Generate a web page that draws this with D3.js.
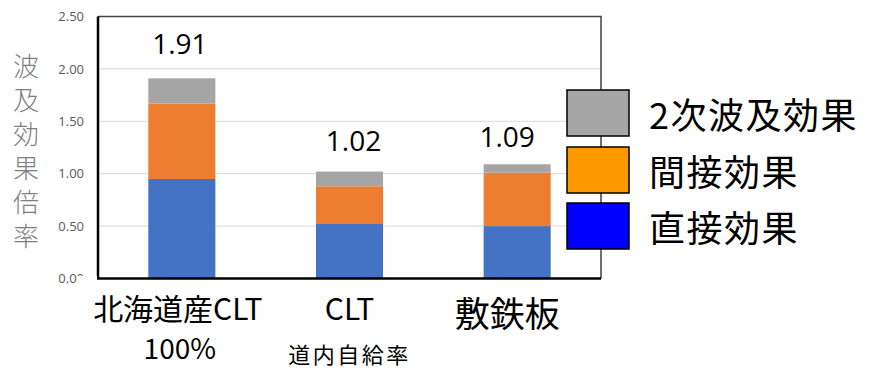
<!DOCTYPE html>
<html>
<head>
<meta charset="utf-8">
<script src="https://cdn.jsdelivr.net/npm/d3@7/dist/d3.min.js"></script>
<style>
  html, body { margin: 0; padding: 0; background: #fff; }
  svg { display: block; }
</style>
</head>
<body>
<svg id="chart" width="871" height="368"></svg>
<script>
// Ripple-effect multipliers by material
const categories = ["北海道産CLT", "CLT", "敷鉄板"];
const subLabels = ["100%", "道内自給率", ""];
const seriesNames = ["直接効果", "間接効果", "2次波及効果"];
const direct = [0.95, 0.52, 0.50];
const indirect = [0.72, 0.36, 0.51];
const secondary = [0.24, 0.14, 0.08];
const totals = [1.91, 1.02, 1.09];
const yTicks = [0, 0.5, 1.0, 1.5, 2.0, 2.5];
const yTitle = "波及効果倍率";

// Styling
const barColors = ["#4472c4", "#ed7d31", "#a5a5a5"];
const legendColors = ["#0000ff", "#ff9900", "#a6a6a6"];
const totalDx = [-2, 4, -10];
const totalDy = [-24, -21, -17];
const catDx = [-4, 0, -10];
const catSize = [30, 30, 35];
const subSize = [28, 22, 22];

const svg = d3.select("#chart");
const M = { left: 98, right: 601, top: 16.5, bottom: 278.5 };

const x = d3.scaleBand().domain(categories).range([M.left, M.right]).paddingInner(0.6).paddingOuter(0.3);
const y = d3.scaleLinear().domain([0, 2.5]).range([M.bottom, M.top]);

const table = categories.map((c, i) => ({
  cat: c,
  [seriesNames[0]]: direct[i],
  [seriesNames[1]]: indirect[i],
  [seriesNames[2]]: secondary[i]
}));
const stacked = d3.stack().keys(seriesNames)(table);

// Gridlines
svg.append("g")
  .selectAll("line")
  .data(yTicks.filter(t => t > 0 && t < 2.5))
  .join("line")
  .attr("x1", M.left).attr("x2", M.right)
  .attr("y1", d => y(d)).attr("y2", d => y(d))
  .attr("stroke", "#d9d9d9").attr("stroke-width", 1);

// Plot frame: thin top/right
svg.append("path")
  .attr("d", `M${M.left},${M.top}H${M.right}V${M.bottom}`)
  .attr("fill", "none").attr("stroke", "#404040").attr("stroke-width", 1.5);

// Stacked bars
svg.append("g")
  .selectAll("g")
  .data(stacked)
  .join("g")
  .attr("fill", (d, i) => barColors[i])
  .selectAll("rect")
  .data(d => d)
  .join("rect")
  .attr("x", d => x(d.data.cat))
  .attr("width", x.bandwidth())
  .attr("y", d => y(d[1]))
  .attr("height", d => y(d[0]) - y(d[1]));

// Axis lines: heavy left/bottom
svg.append("path")
  .attr("d", `M${M.left},${M.top}V${M.bottom}H${M.right}`)
  .attr("fill", "none").attr("stroke", "#000").attr("stroke-width", 2.5);

// Y axis tick labels
const yAxis = d3.axisLeft(y).tickValues(yTicks).tickFormat(d3.format(".2f")).tickSize(0).tickPadding(14);
const yg = svg.append("g").attr("transform", `translate(${M.left},0)`).call(yAxis);
yg.select(".domain").remove();
yg.selectAll("text")
  .attr("font-family", "'Open Sans', sans-serif")
  .attr("font-size", 13)
  .attr("fill", "#595959");

// Y axis title, stacked vertically
svg.append("g")
  .selectAll("text")
  .data(Array.from(yTitle))
  .join("text")
  .attr("x", 26)
  .attr("y", (d, i) => 64 + i * 34)
  .attr("text-anchor", "middle")
  .attr("dominant-baseline", "central")
  .attr("font-family", "'Noto Sans CJK JP', sans-serif")
  .attr("font-size", 26)
  .attr("font-weight", 300)
  .attr("fill", "#7f7f7f")
  .text(d => d);

// Total labels
svg.append("g")
  .selectAll("text")
  .data(totals)
  .join("text")
  .attr("x", (d, i) => x(categories[i]) + x.bandwidth() / 2 + totalDx[i])
  .attr("y", (d, i) => y(d) + totalDy[i])
  .attr("text-anchor", "middle")
  .attr("font-family", "'Open Sans', sans-serif")
  .attr("font-size", 28)
  .attr("fill", "#000")
  .text(d => d.toFixed(2));

// Category label box (white background, overlapping the lowest tick label)
svg.append("rect")
  .attr("x", 77).attr("y", 276).attr("width", 20).attr("height", 92)
  .attr("fill", "#fff");
svg.append("rect")
  .attr("x", 77).attr("y", 281).attr("width", 523).attr("height", 87)
  .attr("fill", "#fff");

const catG = svg.append("g")
  .attr("font-family", "'Noto Sans CJK JP', sans-serif")
  .attr("fill", "#000");
catG.selectAll("text.main")
  .data(categories)
  .join("text")
  .attr("class", "main")
  .attr("x", (d, i) => x(d) + x.bandwidth() / 2 + catDx[i])
  .attr("y", (d, i) => i === 2 ? 311 : 307)
  .attr("text-anchor", "middle")
  .attr("dominant-baseline", "central")
  .attr("font-size", (d, i) => catSize[i])
  .text(d => d);
catG.selectAll("text.sub")
  .data(subLabels)
  .join("text")
  .attr("class", "sub")
  .attr("x", (d, i) => x(categories[i]) + x.bandwidth() / 2 + catDx[i] + (i === 0 ? 2 : 0))
  .attr("y", (d, i) => i === 0 ? 347 : 353)
  .attr("text-anchor", "middle")
  .attr("dominant-baseline", "central")
  .attr("font-size", (d, i) => subSize[i])
  .attr("letter-spacing", (d, i) => i === 1 ? 2.5 : 0)
  .text(d => d);

// Legend (top entry is the last series)
const legendOrder = [2, 1, 0];
const lg = svg.append("g");
const boxY = [90, 147, 203];
legendOrder.forEach((s, k) => {
  lg.append("rect")
    .attr("x", 567).attr("y", boxY[k])
    .attr("width", 62).attr("height", 46)
    .attr("fill", legendColors[s])
    .attr("stroke", "#000").attr("stroke-width", 1.5);
  lg.append("text")
    .attr("x", 649).attr("y", boxY[k] + 23)
    .attr("dominant-baseline", "central")
    .attr("font-family", "'Noto Sans CJK JP', sans-serif")
    .attr("font-size", 36)
    .attr("letter-spacing", 1.5)
    .attr("fill", "#000")
    .text(seriesNames[s]);
});
</script>
</body>
</html>
